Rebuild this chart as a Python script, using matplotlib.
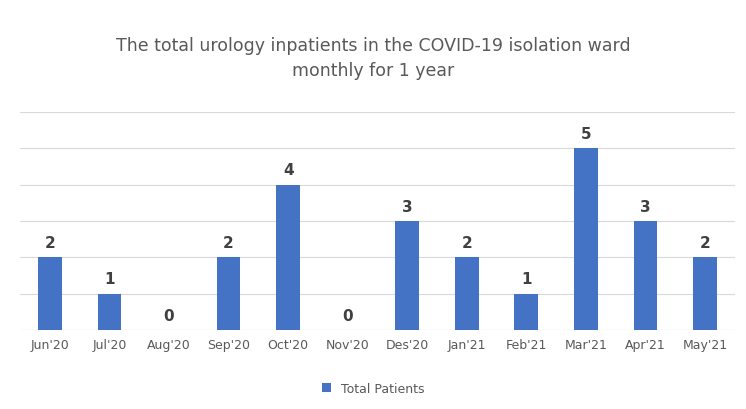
import matplotlib.pyplot as plt

months = ["Jun'20", "Jul'20", "Aug'20", "Sep'20", "Oct'20", "Nov'20",
          "Des'20", "Jan'21", "Feb'21", "Mar'21", "Apr'21", "May'21"]
patients = [2, 1, 0, 2, 4, 0, 3, 2, 1, 5, 3, 2]

fig = plt.figure(figsize=(7.46, 4.10), dpi=100)
ax = fig.add_axes([0.027, 0.193, 0.958, 0.531])

bars = ax.bar(months, patients, width=0.4, color="#4472C4", label="Total Patients", zorder=3)
for i, v in enumerate(patients):
    ax.text(i, v + 0.2, str(v), ha="center", va="bottom", fontsize=11,
            fontweight="bold", color="#404040")

ax.set_ylim(0, 6)
ax.set_xlim(-0.5, len(months) - 0.5)
ax.set_yticks(range(7))
ax.set_yticklabels([])
ax.tick_params(axis="y", length=0)
ax.tick_params(axis="x", length=0, labelsize=9, colors="#595959", pad=6)
ax.grid(axis="y", color="#D9D9D9", linewidth=0.8, zorder=0)
for s in ax.spines.values():
    s.set_visible(False)
ax.axhline(0, color="#D9D9D9", linewidth=0.8, zorder=2)

fig.text(0.5, 0.857, "The total urology inpatients in the COVID-19 isolation ward\nmonthly for 1 year",
         ha="center", va="center", fontsize=12.5, color="#595959", linespacing=1.5)
fig.legend(handles=[bars], loc="center", bbox_to_anchor=(0.5, 0.05), frameon=False,
           fontsize=9, labelcolor="#595959", handlelength=0.7, handleheight=0.7)

fig.savefig("out.png", dpi=100)
